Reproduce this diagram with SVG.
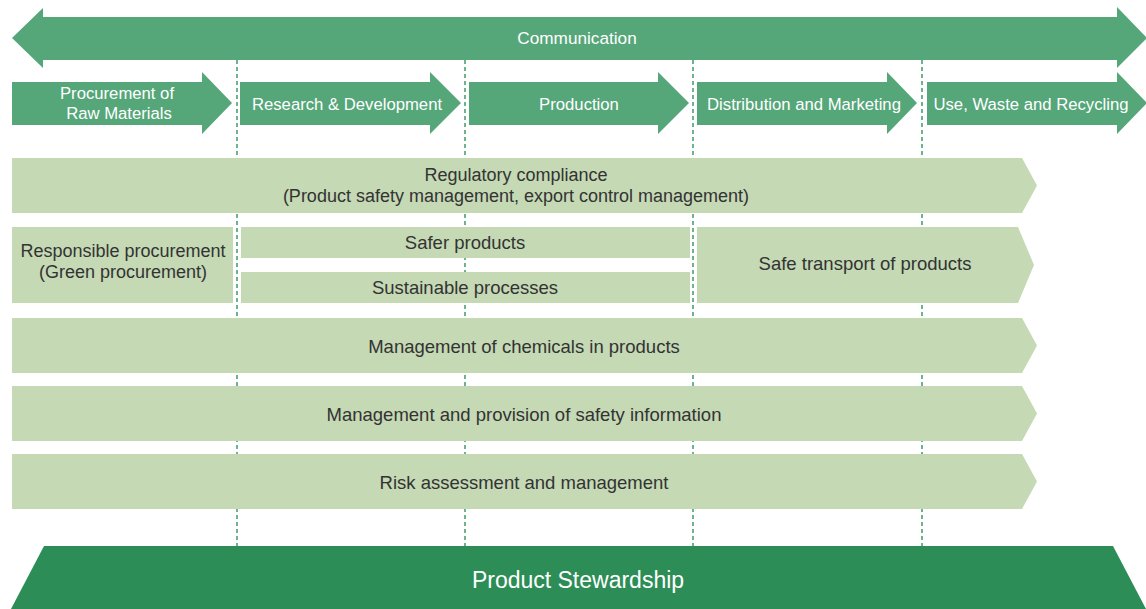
<svg xmlns="http://www.w3.org/2000/svg" width="1146" height="609" viewBox="0 0 1146 609">
<style>
.mid{fill:#55a679}
.light{fill:#c4d9b4}
.dark{fill:#2c8d56}
.wt{font-family:"Liberation Sans",Arial,sans-serif;fill:#ffffff;text-anchor:middle;font-size:16.7px}
.bt{font-family:"Liberation Sans",Arial,sans-serif;fill:#333333;text-anchor:middle;font-size:18.5px}
.bs{font-size:18px}
.dash{stroke:#3f9a6a;stroke-width:1.5;stroke-dasharray:4 3;fill:none}
</style>
<rect width="1146" height="609" fill="#ffffff"/>
<g id="connectors">
<line class="dash" x1="237" y1="60" x2="237" y2="546"/>
<line class="dash" x1="465" y1="60" x2="465" y2="546"/>
<line class="dash" x1="693" y1="60" x2="693" y2="546"/>
<line class="dash" x1="922" y1="60" x2="922" y2="546"/>
</g>
<g id="communication">
<polygon class="mid" points="12,38 43,8 43,17 1117,17 1117,7 1147,38 1117,68 1117,60 43,60 43,68"/>
<text class="wt" x="577" y="44" style="font-size:17.2px">Communication</text>
</g>
<g id="stage-procurement">
<polygon class="mid" points="12,82 202,82 202,72 232,103 202,134 202,125 12,125"/>
<text class="wt" x="117" y="99">Procurement of</text>
<text class="wt" x="119" y="119">Raw Materials</text>
</g>
<g id="stage-rd">
<polygon class="mid" points="240,82 430,82 430,72 461,103 430,134 430,125 240,125"/>
<text class="wt" x="347" y="110">Research &amp; Development</text>
</g>
<g id="stage-production">
<polygon class="mid" points="469,82 658,82 658,72 689,103 658,134 658,125 469,125"/>
<text class="wt" x="579" y="110">Production</text>
</g>
<g id="stage-distribution">
<polygon class="mid" points="697,82 887,82 887,72 917,103 887,134 887,125 697,125"/>
<text class="wt" x="804" y="110">Distribution and Marketing</text>
</g>
<g id="stage-use">
<polygon class="mid" points="927,82 1117,82 1117,72 1147,103 1117,134 1117,125 927,125"/>
<text class="wt" x="1031" y="110">Use, Waste and Recycling</text>
</g>
<g id="regulatory">
<polygon class="light" points="12,158 1022,158 1037,185.5 1022,213 12,213"/>
<text class="bt bs" x="516" y="181">Regulatory compliance</text>
<text class="bt bs" x="516" y="202">(Product safety management, export control management)</text>
</g>
<g id="responsible-procurement">
<rect class="light" x="12" y="227" width="221" height="76"/>
<text class="bt bs" x="123" y="257">Responsible procurement</text>
<text class="bt bs" x="123" y="278">(Green procurement)</text>
</g>
<g id="safer-products">
<rect class="light" x="241" y="227" width="449" height="31"/>
<text class="bt" x="465" y="249">Safer products</text>
</g>
<g id="sustainable-processes">
<rect class="light" x="241" y="272" width="449" height="31"/>
<text class="bt" x="465" y="294">Sustainable processes</text>
</g>
<g id="safe-transport">
<polygon class="light" points="697,227 1018,227 1034,265 1018,303 697,303"/>
<text class="bt" x="865" y="270">Safe transport of products</text>
</g>
<g id="chemicals">
<polygon class="light" points="12,318 1022,318 1037,345.5 1022,373 12,373"/>
<text class="bt" x="524" y="353">Management of chemicals in products</text>
</g>
<g id="safety-info">
<polygon class="light" points="12,386 1022,386 1037,413.5 1022,441 12,441"/>
<text class="bt" x="524" y="421">Management and provision of safety information</text>
</g>
<g id="risk">
<polygon class="light" points="12,454 1022,454 1037,481.5 1022,509 12,509"/>
<text class="bt" x="524" y="489">Risk assessment and management</text>
</g>
<g id="product-stewardship">
<polygon class="dark" points="44,546 1113,546 1146,609 11,609"/>
<text class="wt" x="578" y="588" style="font-size:23px">Product Stewardship</text>
</g>
</svg>
